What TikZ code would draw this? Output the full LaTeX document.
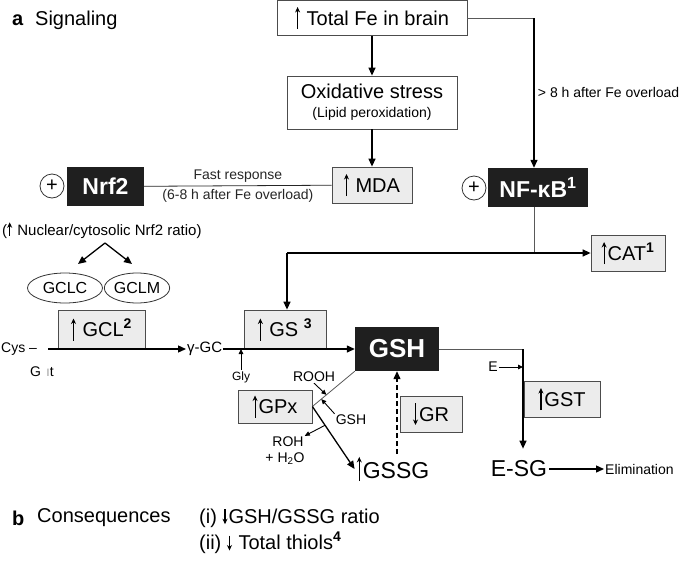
\documentclass[tikz,border=0pt]{standalone}
\usepackage{fontspec}
\setmainfont{Liberation Sans}
\usetikzlibrary{arrows.meta,shapes.geometric,calc}

\newcommand{\upar}[2][-0.2em]{\tikz[baseline=0pt]\draw[line width=1.1pt,-{Stealth[length=5.5pt,width=5pt]}] (0pt,#1) -- (0pt,#2);\hspace{1pt}}
\newcommand{\dnar}[2][-0.2em]{\tikz[baseline=0pt]\draw[line width=1.1pt,-{Stealth[length=5.5pt,width=5pt]}] (0pt,#2) -- (0pt,#1);\hspace{1pt}}

\begin{document}
\begin{tikzpicture}[x=1pt,y=-1pt,
  arr/.style={line width=1.3pt,-{Triangle[length=8pt,width=7pt]}},
  smallarr/.style={line width=0.9pt,-{Triangle[length=5pt,width=4.5pt]}},
  thinl/.style={line width=0.8pt,gray!70!black},
  graybox/.style={draw=gray!60!black,line width=0.8pt,fill=gray!15,font=\fontsize{20}{22}\selectfont,minimum height=36},
  whitebox/.style={draw=gray!60!black,line width=0.8pt,fill=white,font=\fontsize{20}{22}\selectfont},
  blackbox/.style={fill=black!88,text=white,font=\fontsize{23}{25}\selectfont\bfseries},
  big/.style={font=\fontsize{20}{22}\selectfont,inner sep=1pt},
  lbl/.style={font=\fontsize{14}{16}\selectfont},
  tiny/.style={font=\fontsize{12}{14}\selectfont,inner sep=1pt},
  encl/.style={ellipse,draw=black!80,line width=0.8pt,font=\fontsize{16}{18}\selectfont,minimum height=30,inner sep=0pt},
  pluscirc/.style={circle,draw=black!80,line width=0.8pt,minimum size=24,inner sep=0pt,font=\fontsize{20}{20}\selectfont}]

  \useasboundingbox (0,0) rectangle (685,560);

  \node[big,anchor=west] (a) at (11,20) {\textbf{a}};
  \node[big,anchor=west] (sig) at (34,20) {Signaling};

  \node[whitebox,minimum width=190,minimum height=35] (fe) at (372,18) {\upar{0.9em} Total Fe in brain};
  \node[whitebox,minimum width=170,minimum height=53,align=center] (ox) at (372,102.5)
    {Oxidative stress\\[-3pt]{\fontsize{14}{16}\selectfont (Lipid peroxidation)}};
  \node[graybox,minimum width=80] (mda) at (372,185) {\upar{0.9em} MDA};
  \node[blackbox,minimum width=77,minimum height=39] (nrf) at (105.5,186.5) {Nrf2};
  \node[pluscirc] (pl1) at (52,186) {+};
  \node[blackbox,minimum width=100,minimum height=39] (nfkb) at (538,187.5) {NF-κB\textsuperscript{1}};
  \node[pluscirc] (pl2) at (474,188) {+};
  \node[graybox,minimum width=74] (cat) at (628,253) {\upar{0.9em}CAT\textsuperscript{\bfseries 1}};

  \draw[arr] (fe) -- (ox);
  \draw[arr] (ox) -- (mda);
  \draw[line width=0.8pt,black!85] (nrf) -- node[above,lbl]{Fast response} node[below,lbl]{(6-8 h after Fe overload)} (mda);

  \coordinate (c1) at (534,18);
  \coordinate (c2) at (534,253);
  \coordinate (c3) at (287,253);
  \draw[thinl] (fe.east) -- (c1);
  \draw[arr] (c1) -- node[right,lbl]{> 8 h after Fe overload} (c1 |- nfkb.north);
  \draw[thinl] (nfkb.south -| c1) -- (c2);
  \draw[arr] (c3) -- (cat.west);

  \node[anchor=west,font=\fontsize{15}{17}\selectfont,inner sep=1pt] (ratio) at (1,230) {(\upar[-0.05em]{0.85em} Nuclear/cytosolic Nrf2 ratio)};
  \coordinate (c4) at (105,243);
  \coordinate (t1) at (78,264);
  \coordinate (t2) at (132,264);
  \draw[arr] (c4) -- (t1);
  \draw[arr] (c4) -- (t2);
  \node[encl,minimum width=75] (gclc) at (65,288) {GCLC};
  \node[encl,minimum width=64] (gclm) at (137,288) {GCLM};

  \node[graybox,minimum width=87,minimum height=39] (gcl) at (101.5,329.5) {\upar{0.9em} GCL\textsuperscript{\bfseries 2}};
  \node[graybox,minimum width=82,minimum height=39] (gs) at (285,329.5) {\upar{0.9em} GS \textsuperscript{\bfseries 3}};
  \node[blackbox,minimum width=84,minimum height=44,font=\fontsize{26}{28}\selectfont\bfseries] (gsh) at (397,349) {GSH};
  \draw[arr] (c3) -- (c3 |- gs.north);

  \node[lbl,anchor=west,inner sep=1pt] (cys) at (0,349) {Cys –};
  \node[lbl] (glu) at (42,372) {G\hspace{5pt}{\color{gray!70}ı}t};
  \node[anchor=west,font=\fontsize{15}{17}\selectfont,inner sep=1pt] (gc) at (186,349) {γ-GC};
  \coordinate (c5) at (48,349);
  \draw[arr] (c5) -- (gc.west);
  \draw[arr] (gc.east) -- (gsh.west);
  \node[tiny] (gly) at (241,377) {Gly};
  \draw[smallarr] (gly.north) -- (gly.north |- gc.east);

  \coordinate (c6) at (523,349);
  \node[font=\fontsize{23}{25}\selectfont,inner xsep=2pt,inner ysep=12pt] (esg) at (519,469) {E-SG};
  \node[lbl,anchor=west,inner sep=1pt] (elim) at (604,469) {Elimination};
  \draw[thinl] (gsh.east) -- (c6);
  \draw[arr] (c6) -- (c6 |- esg.north);
  \draw[arr] (esg.east) -- (elim.west);
  \node[lbl,inner sep=1pt] (e) at (493,367) {E};
  \draw[smallarr] (e.east) -- (e.east -| c6);
  \node[graybox,minimum width=76] (gst) at (562,399) {\upar{0.9em}GST};

  \node[graybox,minimum width=62] (gr) at (431,414) {\dnar{0.9em}GR};
  \node[font=\fontsize{23}{25}\selectfont,inner sep=2pt] (gssg) at (393,469) {\upar[-0.1em]{0.95em}GSSG};
  \draw[arr,dash pattern=on 5pt off 3pt] (gssg.north -| gsh.south) -- (gsh.south);

  \node[graybox,minimum width=74,minimum height=33] (gpx) at (275,406.5) {\upar{0.9em}GPx};
  \draw[thinl] (gsh.south west) -- (gpx.east) coordinate[pos=0.67] (p1) coordinate[pos=0.79] (p2);
  \node[lbl,inner sep=1pt] (rooh) at (314,377) {ROOH};
  \node[lbl,inner sep=1pt] (gsh2) at (351,420) {GSH};
  \draw[smallarr] (rooh.south) -- (p1);
  \draw[smallarr] (gsh2.north west) -- (p2);
  \draw[arr] (gpx.east) -- (gssg.west) coordinate[pos=0.3] (p3);
  \node[lbl,inner sep=1pt] (roh) at (288,442) {ROH};
  \node[lbl,inner sep=1pt] (h2o) at (285,459) {+ H\textsubscript{2}O};
  \draw[smallarr] (p3) -- (roh.north east);

  \node[big,anchor=west] (b) at (11,518) {\textbf{b}};
  \node[big,anchor=west] (cons) at (36,518) {Consequences};
  \node[big,anchor=west] (con1) at (198,518) {(i) \dnar[-0.05em]{0.7em}GSH/GSSG ratio};
  \node[big,anchor=west] (con2) at (198,543) {(ii) \dnar[-0.05em]{0.7em} Total thiols\textsuperscript{\bfseries 4}};
\end{tikzpicture}
\end{document}
